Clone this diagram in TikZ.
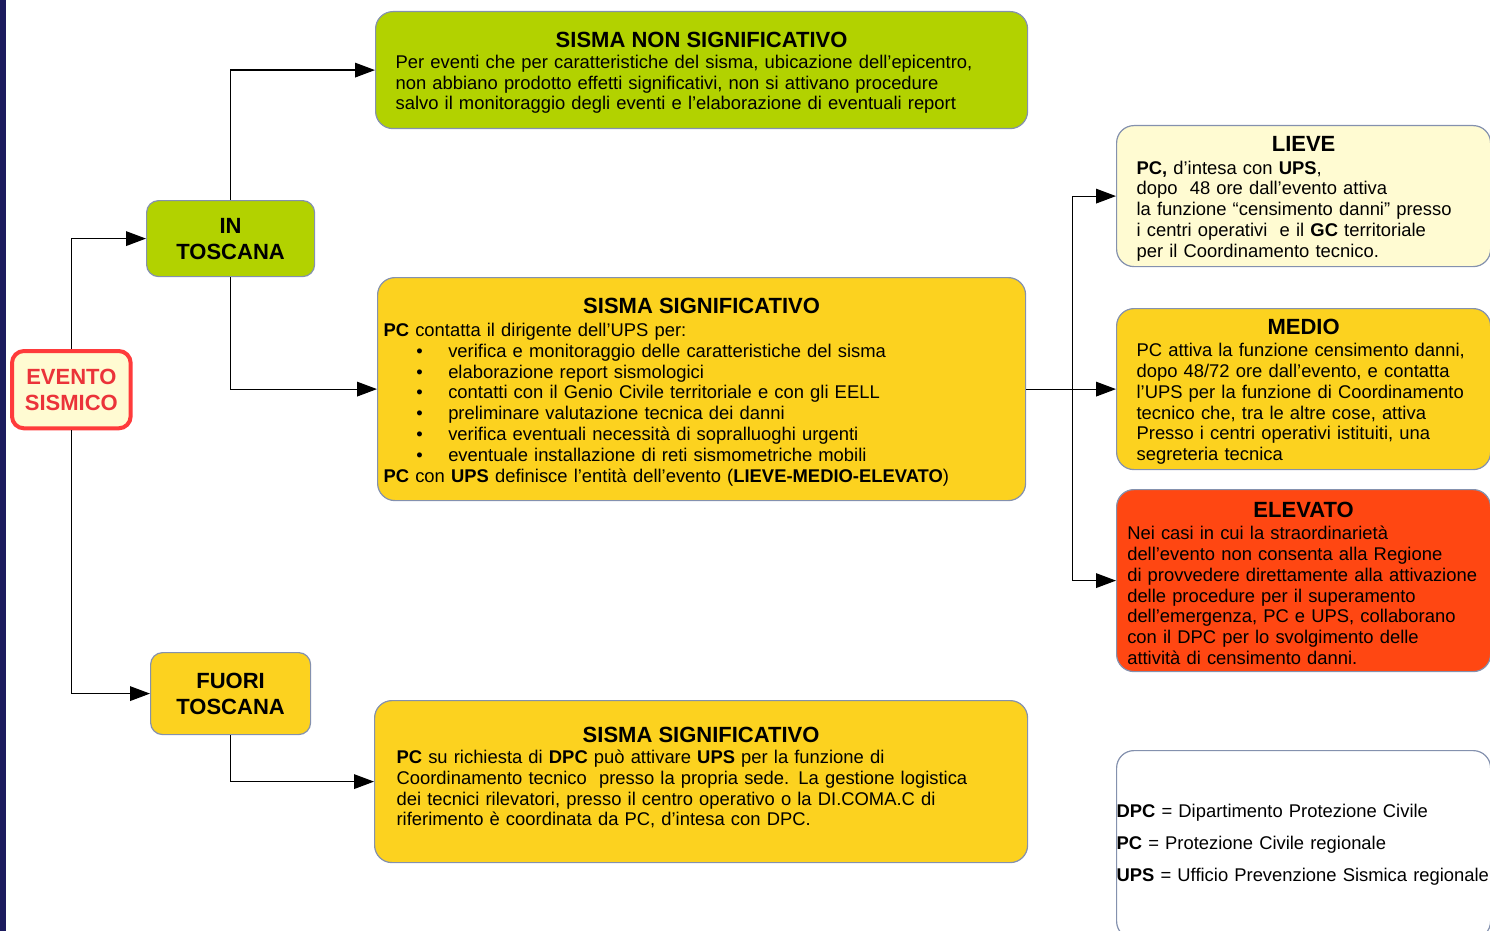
\documentclass[tikz,border=0pt]{standalone}
\usepackage{fontspec}
\setmainfont{Liberation Sans}
\usepackage{tikz}
\usepackage{xcolor}
\usetikzlibrary{arrows.meta, positioning}
\definecolor{LeafGreen}{HTML}{B2D200}
\definecolor{SunYellow}{HTML}{FCD21F}
\definecolor{CreamFill}{HTML}{FFFBD2}
\definecolor{FlameRed}{HTML}{FF4712}
\definecolor{EdgeGrey}{HTML}{8491AE}
\definecolor{AlarmRed}{HTML}{FF3B3B}
\definecolor{AlarmText}{HTML}{EB3339}
\definecolor{SlideNavy}{HTML}{1C1B5E}

\newcommand{\boxhead}[1]{\makebox[\linewidth][c]{\rule{0pt}{15.7pt}\fontsize{16.5}{19}\selectfont\bfseries #1}}
\newcommand{\bul}[1]{\hspace*{24.5pt}\makebox[24pt][l]{\textbullet}#1}

\begin{document}
\begin{tikzpicture}[
    x=0.75pt, y=-0.75pt,
    font=\fontsize{13.8}{15.6}\selectfont,
    panel/.style={
      rounded corners=13pt,
      line width=0.9pt,
      draw=EdgeGrey,
      anchor=north west,
      align=left,
      inner ysep=0pt,
    },
    label/.style={
      rounded corners=9pt,
      line width=0.9pt,
      draw=EdgeGrey,
      anchor=north west,
      align=center,
      font=\fontsize{16.5}{19.5}\selectfont\bfseries,
    },
    flow/.style={
      line width=0.9pt,
      -{Triangle[length=15pt,width=11pt]},
    },
  ]
  \useasboundingbox (0,0) rectangle (1490,931);
  \fill[SlideNavy] (0,0) rectangle (6,931);

  % start and the two regions
  \node[label, draw=AlarmRed, line width=3pt, fill=CreamFill, text=AlarmText,
    minimum width=89pt, minimum height=58pt] (evento) at (10,349) {EVENTO\\SISMICO};
  \node[label, fill=LeafGreen, minimum width=126pt, minimum height=57pt]
    (intoscana) at (146,200) {IN\\TOSCANA};
  \node[label, fill=SunYellow, minimum width=120pt, minimum height=61.5pt]
    (fuori) at (150,652) {FUORI\\TOSCANA};

  % middle column
  \node[panel, fill=LeafGreen, inner xsep=15pt, text width=459pt,
    minimum width=489pt, minimum height=87.75pt] (nonsig) at (375,11) {%
    \boxhead{SISMA NON SIGNIFICATIVO}\\[0pt]
    Per eventi che per caratteristiche del sisma, ubicazione dell'epicentro,\\
    non abbiano prodotto effetti significativi, non si attivano procedure\\
    salvo il monitoraggio degli eventi e l'elaborazione di eventuali report};

  \node[panel, fill=SunYellow, inner xsep=4.5pt, text width=477pt,
    minimum width=486pt, minimum height=167.25pt] (sig) at (377,277) {%
    \boxhead{SISMA SIGNIFICATIVO}\\[2pt]
    \textbf{PC} contatta il dirigente dell'UPS per:\\
    \bul{verifica e monitoraggio delle caratteristiche del sisma}\\
    \bul{elaborazione report sismologici}\\
    \bul{contatti con il Genio Civile territoriale e con gli EELL}\\
    \bul{preliminare valutazione tecnica dei danni}\\
    \bul{verifica eventuali necessità di sopralluoghi urgenti}\\
    \bul{eventuale installazione di reti sismometriche mobili}\\
    \textbf{PC} con \textbf{UPS} definisce l’entità dell’evento (\textbf{LIEVE-MEDIO-ELEVATO})};

  \node[panel, fill=SunYellow, inner xsep=16.5pt, text width=456.75pt,
    minimum width=489.75pt, minimum height=121.5pt] (fuorisig) at (374,700) {%
    \boxhead{SISMA SIGNIFICATIVO}\\[0pt]
    \textbf{PC} su richiesta di \textbf{DPC} può attivare \textbf{UPS} per la funzione di\\
    Coordinamento tecnico\ \ presso la propria sede. La gestione logistica\\
    dei tecnici rilevatori, presso il centro operativo o la DI.COMA.C di\\
    riferimento è coordinata da PC, d’intesa con DPC.\\[-4pt]\mbox{}};

  % right column
  \node[panel, fill=CreamFill, inner xsep=15pt, text width=250.5pt,
    minimum width=280.5pt, minimum height=105.75pt] (lieve) at (1116,125) {%
    \boxhead{LIEVE}\\[1pt]
    \textbf{PC,} d'intesa con \textbf{UPS},\\
    dopo\ \ 48 ore dall’evento attiva\\
    la funzione “censimento danni” presso\\
    i centri operativi\ \ e il \textbf{GC} territoriale\\
    per il Coordinamento tecnico.};

  \node[panel, fill=SunYellow, inner xsep=15pt, text width=250.5pt,
    minimum width=280.5pt, minimum height=120.75pt] (medio) at (1116,308) {%
    \boxhead{MEDIO}\\[1pt]
    PC attiva la funzione censimento danni,\\
    dopo 48/72 ore dall'evento, e contatta\\
    l'UPS per la funzione di Coordinamento\\
    tecnico che, tra le altre cose, attiva\\
    Presso i centri operativi istituiti, una\\
    segreteria tecnica};

  \node[panel, fill=FlameRed, inner xsep=8pt, text width=264.5pt,
    minimum width=280.5pt, minimum height=136.5pt] (elevato) at (1116,489) {%
    \boxhead{ELEVATO}\\[1pt]
    Nei casi in cui la straordinarietà\\
    dell’evento non consenta alla Regione\\
    di provvedere direttamente alla attivazione\\
    delle procedure per il superamento\\
    dell’emergenza, PC e UPS, collaborano\\
    con il DPC per lo svolgimento delle\\
    attività di censimento danni.};

  \node[panel, fill=white, inner xsep=0pt, text width=280.5pt,
    minimum width=280.5pt, minimum height=141pt] (legenda) at (1116,750) {%
    \textbf{DPC} = Dipartimento Protezione Civile\\[8.4pt]
    \textbf{PC} = Protezione Civile regionale\\[8.4pt]
    \textbf{UPS} = Ufficio Prevenzione Sismica regionale};

  % connectors
  \draw[flow] (evento.north) |- (intoscana.west);
  \draw[flow] (evento.south) |- (fuori.west);
  \draw[flow] (intoscana.north) |- (nonsig.west);
  \draw[flow] (intoscana.south) |- (sig.west);
  \draw[flow] (fuori.south) |- (fuorisig.west);
  \coordinate (split) at ([xshift=34.5pt]sig.east);
  \draw[line width=0.9pt] (sig.east) -- (split);
  \draw[flow] (split) |- (lieve.west);
  \draw[flow] (split) -- (medio.west);
  \draw[flow] (split) |- (elevato.west);
\end{tikzpicture}
\end{document}
